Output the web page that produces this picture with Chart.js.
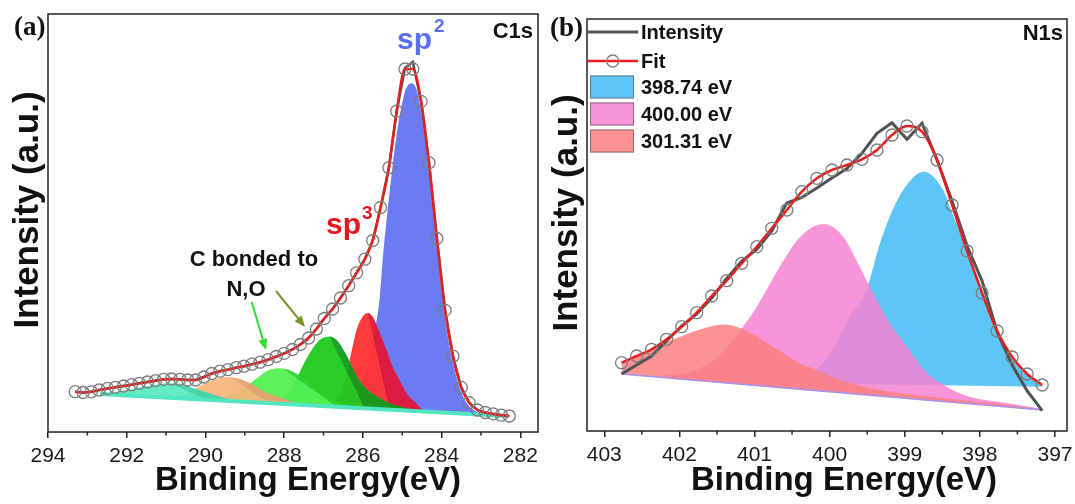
<!DOCTYPE html>
<html><head><meta charset="utf-8">
<script src="https://cdn.jsdelivr.net/npm/chart.js@4.4.0/dist/chart.umd.min.js"></script>
<style>
html,body{margin:0;padding:0;background:#fff;}
#wrap{position:relative;width:1075px;height:504px;overflow:hidden;background:#fff;}
canvas{position:absolute;top:0;}
#c1{left:0;} #c2{left:540px;}
</style></head><body>
<div id="wrap"><canvas id="c1" width="540" height="504"></canvas><canvas id="c2" width="535" height="504"></canvas></div>
<script>
// ---------------- (a) C1s data ----------------
const c1sTicks = [282, 284, 286, 288, 290, 292, 294];
const c1sMinorTicks = [283, 285, 287, 289, 291, 293];
const c1sEnergy = [293.31, 293.11, 292.90, 292.70, 292.49, 292.29, 292.08, 291.88, 291.68, 291.47,
  291.27, 291.06, 290.86, 290.65, 290.45, 290.25, 290.04, 289.84, 289.63, 289.43,
  289.22, 289.02, 288.82, 288.61, 288.41, 288.20, 288.00, 287.79, 287.59, 287.38,
  287.18, 286.98, 286.77, 286.57, 286.36, 286.16, 285.95, 285.75, 285.55, 285.34,
  285.14, 284.93, 284.73, 284.52, 284.32, 284.12, 283.91, 283.71, 283.50, 283.30,
  283.09, 282.89, 282.69, 282.48, 282.28];
const c1sFit = [40.3, 39.5, 40.2, 42, 43.6, 44.7, 46, 47.3, 48.7, 50,
  51.3, 52.7, 53, 52.7, 52, 52, 55, 58.5, 60.8, 62.4,
  64.3, 65.8, 67.8, 69.8, 72.3, 75.5, 78.6, 82.5, 87.5, 94,
  103, 113.5, 123, 134, 146.3, 159.2, 172.8, 191.5, 224.5, 264.3,
  320.8, 363, 363, 330.6, 269.3, 193.5, 121.6, 75.8, 44.6, 29.4,
  22, 19.5, 18.1, 16.8, 16];
const c1sRaw = [40.3, 39.5, 40.2, 42, 43.6, 44.7, 46, 47.3, 48.7, 50,
  51.3, 52.7, 53, 52.7, 52, 52, 55, 58.5, 60.8, 62.4,
  64.3, 65.8, 67.8, 69.8, 72.3, 75.5, 78.6, 82.5, 87.5, 94,
  103, 113.5, 123, 134, 146.3, 159.2, 172.8, 191.5, 224.5, 264.3,
  320.8, 364, 370, 330.6, 269.3, 193.5, 121.6, 75.8, 44.6, 29.4,
  22, 19.5, 18.1, 16.8, 16];
const c1sBaselineEnergy = [292.68, 282.35];
const c1sBaseline = [38, 16];
const c1sPeak291Energy = [292.68, 292.30, 291.92, 291.54, 291.16, 290.90, 290.60, 290.27, 289.89, 289.51, 289.13];
const c1sPeak291 = [38, 40, 42.5, 45.5, 48, 48.7, 47.5, 43.5, 38.5, 34, 30.6];
const c1sPeak289Energy = [290.65, 290.27, 289.89, 289.58, 289.38, 289.13, 288.87, 288.62, 288.37, 287.98, 287.60];
const c1sPeak289 = [34, 43, 51, 54.5, 55, 53, 49, 43, 38, 33, 27.5];
const c1sPeak288Energy = [289.76, 289.38, 289.00, 288.65, 288.42, 288.11, 287.81, 287.53, 287.22, 286.89, 286.46, 286.08];
const c1sPeak288 = [32, 37, 45, 55, 61.5, 63.7, 61, 54, 44, 35, 27.5, 24.2];
const c1sPeak287Energy = [288.49, 288.11, 287.86, 287.65, 287.48, 287.30, 287.10, 286.84, 286.64, 286.46, 286.28, 286.13, 285.93, 285.70, 285.32, 284.94, 284.56];
const c1sPeak287 = [29.1, 33, 42, 56, 70, 82, 92, 95.5, 91, 80, 66, 54, 44, 37, 29, 24.5, 21];
const c1sPeak286Energy = [286.97, 286.72, 286.51, 286.39, 286.28, 286.16, 286.03, 285.87, 285.73, 285.62, 285.40, 285.24, 285.07, 284.86, 284.64, 284.47, 284.30];
const c1sPeak286 = [25.8, 30, 44, 62, 82, 102, 114, 119, 114, 104, 82, 65, 52, 37, 28.7, 21.5, 20.2];
const c1sPeak285Energy = [286.46, 286.21, 285.95, 285.78, 285.57, 285.49, 285.32, 285.15, 284.94, 284.77, 284.61, 284.43, 284.32, 284.12, 283.91, 283.71, 283.50, 283.30, 283.09, 282.89, 282.53];
const c1sPeak285 = [27, 35, 55, 85, 135, 175, 240, 295, 339, 348.7, 339, 295, 258, 183, 113, 69, 40, 26, 20, 18, 16.4];

// ---------------- (b) N1s data ----------------
const n1sTicks = [397, 398, 399, 400, 401, 402, 403];
const n1sMinorTicks = [397.5, 398.5, 399.5, 400.5, 401.5, 402.5];
const n1sEnergy = [402.77, 402.57, 402.37, 402.17, 401.97, 401.77, 401.57, 401.37, 401.17, 400.97,
  400.77, 400.57, 400.37, 400.17, 399.97, 399.77, 399.57, 399.37, 399.17, 398.97,
  398.77, 398.57, 398.37, 398.17, 397.97, 397.77, 397.57, 397.37, 397.17];
const n1sFit = [68.3, 75, 81.7, 91.7, 104.3, 118.3, 135, 150.3, 167.7, 184.3,
  202.7, 221, 239.3, 252.7, 261, 266, 271.7, 281, 296, 305,
  299.3, 271, 226, 180, 138, 100, 74, 57, 46];
const n1sRaw = [57, 66, 75, 90.3, 105, 117, 133, 152.5, 170, 181.5,
  200, 228, 233.5, 243, 253, 262.5, 277.7, 297.7, 308.3, 291.7,
  307.7, 271, 230, 185, 150, 99, 66, 40, 20.3];
const n1sBaselineEnergy = [402.77, 397.17];
const n1sBaseline = [57, 21];
const n1sBlueBaseEnergy = [400.59, 397.16];
const n1sBlueBase = [48, 44.3];
const n1sPeak399Energy = [400.59, 400.39, 400.19, 399.99, 399.73, 399.51, 399.33, 399.20, 399.02, 398.75, 398.49, 398.35, 398.17, 398.00, 397.87, 397.67, 397.47, 397.31, 397.16];
const n1sPeak399 = [48, 50, 60, 78, 115, 141, 187.7, 214.3, 241, 259.3, 241, 214.3, 181, 145, 118, 84, 63, 52, 44.5];
const n1sPeak400Energy = [402.26, 401.99, 401.72, 401.46, 401.12, 400.97, 400.79, 400.61, 400.39, 400.08, 399.82, 399.60, 399.42, 399.20, 398.97, 398.73, 398.46, 398.13, 397.73, 397.17];
const n1sPeak400 = [55.5, 57, 63, 76, 107.7, 124.3, 147.7, 171, 194.3, 207, 194.3, 164.3, 137.7, 107.7, 84.3, 60, 45, 34, 29, 22];
const n1sPeak401Energy = [402.77, 402.49, 402.26, 402.04, 401.86, 401.66, 401.40, 401.19, 400.96, 400.79, 400.61, 400.39, 400.23, 399.99, 399.79, 399.46, 399.06, 398.40, 397.73, 397.17];
const n1sPeak401 = [67.7, 77.7, 86, 92.7, 98, 103, 106.5, 103, 94.3, 86, 77.7, 67, 62.7, 55, 49.3, 43, 38, 32, 27, 21.5];
const n1sLegendLabels = ['Intensity', 'Fit', '398.74 eV', '400.00 eV', '301.31 eV'];

// ---------------- helpers ----------------
const SANS = "'Liberation Sans', Arial, sans-serif";
Chart.defaults.font.family = SANS;
function pts(xs, ys) { return xs.map((x, i) => ({ x: x, y: ys[i] })); }

function splitFill(light, dark, p1, p2) {
  return function (c) {
    const chart = c.chart;
    const xs = chart.scales && chart.scales.x, ys = chart.scales && chart.scales.y;
    if (!chart.chartArea || !xs || !ys) return light;
    const x1 = xs.getPixelForValue(p1[0]), y1 = ys.getPixelForValue(p1[1]);
    const x2 = xs.getPixelForValue(p2[0]), y2 = ys.getPixelForValue(p2[1]);
    if (![x1, y1, x2, y2].every(Number.isFinite)) return light;
    let nx = y2 - y1, ny = -(x2 - x1);
    if (nx < 0) { nx = -nx; ny = -ny; }
    const L = Math.hypot(nx, ny) || 1; nx /= L; ny /= L;
    const mx = (x1 + x2) / 2, my = (y1 + y2) / 2;
    const g = chart.ctx.createLinearGradient(mx - nx * 40, my - ny * 40, mx + nx * 40, my + ny * 40);
    g.addColorStop(0, light); g.addColorStop(0.5, light);
    g.addColorStop(0.5, dark); g.addColorStop(1, dark);
    return g;
  };
}

function makeDecor(cfg) {
  return {
    id: 'decor',
    afterDraw(chart) {
      const ctx = chart.ctx, a = chart.chartArea, xs = chart.scales.x;
      ctx.save();
      ctx.strokeStyle = '#222'; ctx.lineWidth = 1.5;
      cfg.minor.forEach(v => {
        const p = xs.getPixelForValue(v);
        ctx.beginPath(); ctx.moveTo(p, a.bottom); ctx.lineTo(p, a.bottom + 3.5); ctx.stroke();
      });
      ctx.strokeRect(a.left, a.top, a.right - a.left, a.bottom - a.top);
      (cfg.arrows || []).forEach(ar => {
        const ang = Math.atan2(ar.y2 - ar.y1, ar.x2 - ar.x1);
        const hl = 11, hw = 4.5;
        const bx = ar.x2 - hl * Math.cos(ang), by = ar.y2 - hl * Math.sin(ang);
        ctx.strokeStyle = ar.c; ctx.fillStyle = ar.c; ctx.lineWidth = 2;
        ctx.beginPath(); ctx.moveTo(ar.x1, ar.y1); ctx.lineTo(bx, by); ctx.stroke();
        ctx.beginPath(); ctx.moveTo(ar.x2, ar.y2);
        ctx.lineTo(bx + hw * Math.sin(ang), by - hw * Math.cos(ang));
        ctx.lineTo(bx - hw * Math.sin(ang), by + hw * Math.cos(ang));
        ctx.closePath(); ctx.fill();
      });
      cfg.texts.forEach(t => {
        ctx.save();
        ctx.font = t.f; ctx.fillStyle = t.c || '#111';
        ctx.textAlign = t.a || 'left'; ctx.textBaseline = 'alphabetic';
        ctx.translate(t.x, t.y);
        if (t.r) ctx.rotate(t.r * Math.PI / 180);
        ctx.fillText(t.t, 0, 0);
        ctx.restore();
      });
      if (cfg.legend) {
        const lg = cfg.legend;
        ctx.font = lg.font; ctx.textBaseline = 'middle'; ctx.textAlign = 'left';
        lg.items.forEach((it, k) => {
          const ds = chart.data.datasets[it.ds];
          const y = lg.rows[k];
          if (it.kind === 'line' || it.kind === 'linept') {
            ctx.strokeStyle = ds.borderColor; ctx.lineWidth = ds.borderWidth;
            ctx.beginPath(); ctx.moveTo(lg.x0, y); ctx.lineTo(lg.x1, y); ctx.stroke();
            if (it.kind === 'linept') {
              ctx.strokeStyle = ds.pointBorderColor; ctx.lineWidth = ds.pointBorderWidth;
              ctx.beginPath(); ctx.arc((lg.x0 + lg.x1) / 2, y, ds.pointRadius, 0, Math.PI * 2); ctx.stroke();
            }
          } else {
            ctx.fillStyle = '#fff';
            ctx.fillRect(lg.boxX, y - lg.boxH / 2, lg.boxW, lg.boxH);
            ctx.fillStyle = ds.backgroundColor;
            ctx.fillRect(lg.boxX, y - lg.boxH / 2, lg.boxW, lg.boxH);
            ctx.strokeStyle = 'rgba(90,90,90,0.7)'; ctx.lineWidth = 1;
            ctx.strokeRect(lg.boxX + 0.5, y - lg.boxH / 2 + 0.5, lg.boxW - 1, lg.boxH - 1);
          }
          ctx.fillStyle = '#111';
          ctx.fillText(ds.label, lg.textX, y + 1);
        });
      }
      ctx.restore();
    }
  };
}

function xScale(min, max, ticks, h) {
  return {
    type: 'linear', reverse: true, min: min, max: max,
    afterBuildTicks: s => { s.ticks = ticks.map(v => ({ value: v })); },
    afterFit: s => { s.height = h; },
    ticks: { autoSkip: false, maxRotation: 0, minRotation: 0, padding: 6, color: '#1a1a1a',
      font: { size: 21, family: SANS }, callback: v => String(v) },
    grid: { drawOnChartArea: false, drawTicks: true, tickLength: 6, color: '#222', lineWidth: 1.5 },
    border: { display: false }
  };
}

function baseOptions(padding, xs, ymax) {
  return {
    responsive: false, maintainAspectRatio: false, animation: false, events: [],
    layout: { padding: padding, autoPadding: false },
    plugins: { legend: { display: false }, tooltip: { enabled: false } },
    scales: { x: xs, y: { display: false, min: 0, max: ymax } }
  };
}

function fitSet(label, xs, ys) {
  return { label: label, data: pts(xs, ys), borderColor: '#e81e1e', borderWidth: 2.5,
    pointRadius: 6, pointBorderColor: '#7d7d7d', pointBorderWidth: 1.3,
    pointBackgroundColor: 'rgba(0,0,0,0)', fill: false, cubicInterpolationMode: 'monotone', tension: 0.4 };
}
function rawSet(label, xs, ys, w) {
  return { label: label, data: pts(xs, ys), borderColor: '#525252', borderWidth: w,
    pointRadius: 0, fill: false, tension: 0 };
}
function peakSet(label, xs, ys, bg, target) {
  return { label: label, data: pts(xs, ys), borderColor: 'rgba(0,0,0,0)', borderWidth: 0,
    backgroundColor: bg, fill: target, pointRadius: 0, cubicInterpolationMode: 'monotone', tension: 0.4 };
}

// ---------------- chart (a) ----------------
new Chart(document.getElementById('c1'), {
  type: 'line',
  data: { datasets: [
    fitSet('Fit', c1sEnergy, c1sFit),
    rawSet('Intensity', c1sEnergy, c1sRaw, 2.5),
    { label: 'Baseline', data: pts(c1sBaselineEnergy, c1sBaseline), borderColor: '#52e6c0', borderWidth: 4, pointRadius: 0, fill: false, tension: 0 },
    peakSet('291.0 eV', c1sPeak291Energy, c1sPeak291, splitFill('rgba(88,234,192,0.93)', 'rgba(62,214,172,0.93)', [290.90, 49], [290.14, 35]), 2),
    peakSet('289.4 eV', c1sPeak289Energy, c1sPeak289, splitFill('rgba(247,180,124,0.93)', 'rgba(234,160,112,0.93)', [289.38, 55], [288.57, 34]), 2),
    peakSet('288.1 eV', c1sPeak288Energy, c1sPeak288, splitFill('rgba(82,240,82,0.93)', 'rgba(46,212,46,0.93)', [287.98, 62], [287.01, 35]), 2),
    peakSet('286.8 eV', c1sPeak287Energy, c1sPeak287, splitFill('rgba(31,202,31,0.95)', 'rgba(15,155,29,0.95)', [286.84, 95], [286.03, 30]), 2),
    peakSet('sp3', c1sPeak286Energy, c1sPeak286, splitFill('rgba(255,52,52,0.96)', 'rgba(225,23,59,0.96)', [285.87, 119], [285.32, 22]), 2),
    peakSet('sp2', c1sPeak285Energy, c1sPeak285, '#6b7cf3', 2)
  ] },
  options: baseOptions({ left: 48, top: 14, right: 2, bottom: 0 }, xScale(281.55, 294, c1sTicks, 72), 418),
  plugins: [makeDecor({
    minor: c1sMinorTicks,
    arrows: [
      { x1: 251.7, y1: 302, x2: 266, y2: 350, c: '#2fdc2f' },
      { x1: 276, y1: 291, x2: 305, y2: 327, c: '#76962a' }
    ],
    texts: [
      { t: '(a)', x: 14, y: 35, f: "bold 27px 'Liberation Serif', serif" },
      { t: 'C1s', x: 533, y: 38, f: 'bold 22px ' + SANS, a: 'right' },
      { t: 'Intensity (a.u.)', x: 38, y: 210, f: 'bold 35px ' + SANS, a: 'center', r: -90 },
      { t: 'Binding Energy(eV)', x: 308, y: 490, f: 'bold 33px ' + SANS, a: 'center' },
      { t: 'sp', x: 397, y: 49, f: 'bold 30px ' + SANS, c: '#5a6ef2' },
      { t: '2', x: 434, y: 32, f: 'bold 19px ' + SANS, c: '#5a6ef2' },
      { t: 'sp', x: 326, y: 234, f: 'bold 30px ' + SANS, c: '#e8141c' },
      { t: '3', x: 362, y: 219, f: 'bold 19px ' + SANS, c: '#e8141c' },
      { t: 'C bonded to', x: 254, y: 266, f: 'bold 22px ' + SANS, a: 'center' },
      { t: 'N,O', x: 246, y: 296, f: 'bold 22px ' + SANS, a: 'center' }
    ]
  })]
});

// ---------------- chart (b) ----------------
new Chart(document.getElementById('c2'), {
  type: 'line',
  data: { datasets: [
    fitSet(n1sLegendLabels[1], n1sEnergy, n1sFit),
    rawSet(n1sLegendLabels[0], n1sEnergy, n1sRaw, 3),
    { label: 'Baseline', data: pts(n1sBaselineEnergy, n1sBaseline), borderColor: '#a394f0', borderWidth: 1.5, pointRadius: 0, fill: false, tension: 0 },
    peakSet(n1sLegendLabels[4], n1sPeak401Energy, n1sPeak401, 'rgba(250,128,128,0.85)', 2),
    peakSet(n1sLegendLabels[3], n1sPeak400Energy, n1sPeak400, 'rgba(246,130,210,0.85)', 2),
    { label: 'Base 398.74', data: pts(n1sBlueBaseEnergy, n1sBlueBase), borderColor: 'rgba(0,0,0,0)', borderWidth: 0, pointRadius: 0, fill: false, tension: 0 },
    peakSet(n1sLegendLabels[2], n1sPeak399Energy, n1sPeak399, '#5ec5f7', 5)
  ] },
  options: baseOptions({ left: 47, top: 19, right: 8, bottom: 0 }, xScale(396.84, 403.23, n1sTicks, 73), 412),
  plugins: [makeDecor({
    minor: n1sMinorTicks,
    texts: [
      { t: '(b)', x: 10, y: 36, f: "bold 27px 'Liberation Serif', serif" },
      { t: 'N1s', x: 523, y: 40, f: 'bold 22px ' + SANS, a: 'right' },
      { t: 'Intensity (a.u.)', x: 37, y: 213, f: 'bold 35px ' + SANS, a: 'center', r: -90 },
      { t: 'Binding Energy(eV)', x: 304, y: 490, f: 'bold 33px ' + SANS, a: 'center' }
    ],
    legend: {
      font: 'bold 20px ' + SANS, x0: 47.5, x1: 98, boxX: 50, boxW: 44, boxH: 23, textX: 101,
      rows: [32, 61, 87, 114, 141],
      items: [ { ds: 1, kind: 'line' }, { ds: 0, kind: 'linept' }, { ds: 6, kind: 'box' }, { ds: 4, kind: 'box' }, { ds: 3, kind: 'box' } ]
    }
  })]
});
</script></body></html>
